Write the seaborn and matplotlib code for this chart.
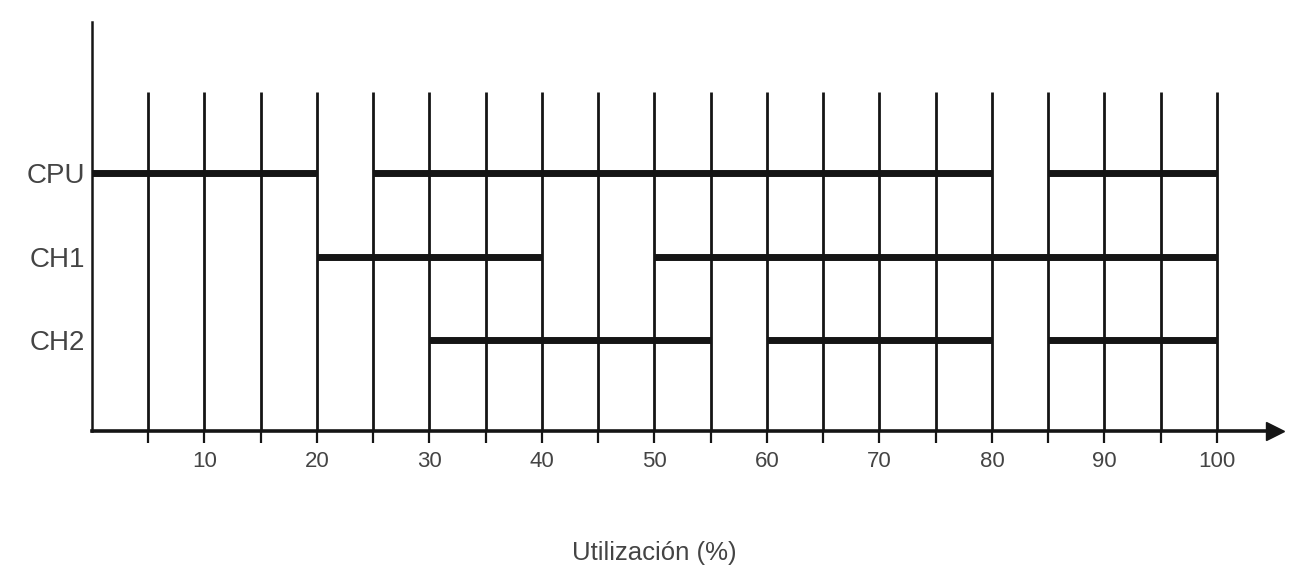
import pandas as pd
import matplotlib.pyplot as plt
import seaborn as sns

# resource rows, top to bottom
resources = ["CPU", "CH1", "CH2"]
row_y = [3, 2, 1]

# busy intervals (start, end) in % utilization
cpu_busy = [(0, 20), (25, 80), (85, 100)]
ch1_busy = [(20, 40), (50, 100)]
ch2_busy = [(30, 55), (60, 80), (85, 100)]

grid_x = list(range(5, 105, 5))
tick_major = list(range(10, 110, 10))

sns.set_theme(style="white")
plt.rcParams['font.family'] = ['Liberation Sans', 'DejaVu Sans']

# long form table, two points per segment
rows = []
seg = 0
for name, yy, busy in zip(resources, row_y, [cpu_busy, ch1_busy, ch2_busy]):
    for a, b in busy:
        rows.append({"res": name, "seg": seg, "x": a, "y": yy})
        rows.append({"res": name, "seg": seg, "x": b, "y": yy})
        seg += 1
df = pd.DataFrame(rows)

fig = plt.figure(figsize=(13.14, 5.75), dpi=100)
ax = fig.add_axes([0.0700, 0.2504, 0.9003, 0.7113])

ink = "#151515"
xmax = 105.16
ylow = -0.09
ax.vlines(grid_x, ylow, 3.97, color=ink, linewidth=2.0, zorder=1)

sns.lineplot(data=df, x="x", y="y", units="seg", estimator=None,
             color=ink, linewidth=5.0, legend=False, ax=ax, zorder=3,
             solid_capstyle="butt")

ax.set_xlim(0, xmax)
ax.set_ylim(ylow, 4.81)

for s in ["top", "right"]:
    ax.spines[s].set_visible(False)
for s in ["left", "bottom"]:
    ax.spines[s].set_color(ink)
ax.spines["bottom"].set_linewidth(2.6)
ax.spines["left"].set_linewidth(1.8)

# arrow head on x axis
ax.plot(1, 0, marker=">", ms=13, color=ink, transform=ax.transAxes, clip_on=False)

ax.set_xticks(tick_major)
ax.set_xticks(grid_x, minor=True)
ax.set_xticklabels([str(t) for t in tick_major], fontsize=16, color="#444444")
ax.tick_params(axis="x", which="both", direction="out", length=8.5, width=1.6,
               color=ink, bottom=True, pad=6)

ax.set_yticks(row_y)
ax.set_yticklabels(resources, fontsize=20, color="#444444")
ax.tick_params(axis="y", length=0, pad=5)

ax.set_xlabel("Utilización (%)", fontsize=18.5, color="#444444")
ax.set_ylabel("")
ax.xaxis.set_label_coords(50 / xmax, -0.268)
ax.xaxis.label.set_va("top")

plt.savefig("out.png", dpi=100)
plt.close()
